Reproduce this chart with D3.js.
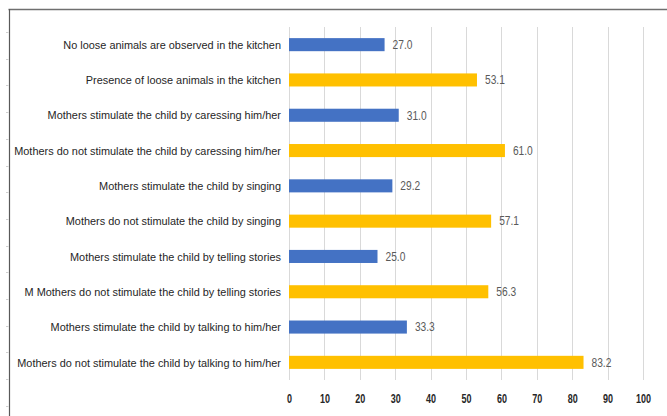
<!DOCTYPE html>
<html>
<head>
<meta charset="utf-8">
<script src="https://cdn.jsdelivr.net/npm/d3@7"></script>
<style>
  html, body { margin: 0; padding: 0; background: #fff; }
  svg { display: block; }
  .cat { font-family: "Liberation Sans", Arial, sans-serif; font-size: 11.5px; fill: #262626; }
  .val { font-family: "Liberation Sans", Arial, sans-serif; font-size: 12px; fill: #595959; }
  .tick text { font-family: "Liberation Sans", Arial, sans-serif; font-size: 12.5px; font-weight: bold; fill: #262626; }
</style>
</head>
<body>
<svg id="chart" width="667" height="416"></svg>
<script>
const categories = [
  "No loose animals are observed in the kitchen",
  "Presence of loose animals in the kitchen",
  "Mothers stimulate the child by caressing him/her",
  "Mothers do not stimulate the child by caressing him/her",
  "Mothers stimulate the child by singing",
  "Mothers do not stimulate the child by singing",
  "Mothers stimulate the child by telling stories",
  "M Mothers do not stimulate the child by telling stories",
  "Mothers stimulate the child by talking to him/her",
  "Mothers do not stimulate the child by talking to him/her"
];
const values = [27.0, 53.1, 31.0, 61.0, 29.2, 57.1, 25.0, 56.3, 33.3, 83.2];
const groups = ["yes", "no", "yes", "no", "yes", "no", "yes", "no", "yes", "no"];
const tickValues = [0, 10, 20, 30, 40, 50, 60, 70, 80, 90, 100];

const colors = { yes: "#4472C4", no: "#FFC000" };

const svg = d3.select("#chart");
const W = 667, H = 416;

// frame lines (top and left)
svg.append("line").attr("x1", 8.5).attr("x2", W).attr("y1", 9.5).attr("y2", 9.5)
  .attr("stroke", "#6f6f6f").attr("stroke-width", 1.6);
svg.append("line").attr("x1", 9.5).attr("x2", 9.5).attr("y1", 9).attr("y2", H)
  .attr("stroke", "#595959").attr("stroke-width", 1.2);
// small marks along the left frame
d3.range(32, H, 26.7).forEach(y => {
  svg.append("line").attr("x1", 6).attr("x2", 8.5).attr("y1", Math.round(y) + 0.5).attr("y2", Math.round(y) + 0.5)
    .attr("stroke", "#d0d0d0").attr("stroke-width", 1);
});

const x = d3.scaleLinear().domain([0, 100]).range([289, 643]);
const y = d3.scaleBand().domain(categories).range([27, 380]).paddingInner(0.63).paddingOuter(0.315);

// gridlines
svg.append("g").selectAll("line").data(tickValues).join("line")
  .attr("x1", d => Math.round(x(d)) + 0.5).attr("x2", d => Math.round(x(d)) + 0.5)
  .attr("y1", 27).attr("y2", 380)
  .attr("stroke", "#d9d9d9").attr("stroke-width", 1);

// x axis tick labels (condensed bold digits)
const xAxis = d3.axisBottom(x).tickValues(tickValues).tickSize(0).tickPadding(0).tickFormat(d3.format("d"));
const gx = svg.append("g").attr("transform", "translate(0,394)").call(xAxis);
gx.select(".domain").remove();
gx.selectAll(".tick text").attr("transform", "scale(0.72,1)");

// bars
svg.append("g").selectAll("rect").data(values).join("rect")
  .attr("x", x(0))
  .attr("y", (d, i) => y(categories[i]))
  .attr("width", d => x(d) - x(0))
  .attr("height", y.bandwidth())
  .attr("fill", (d, i) => colors[groups[i]]);

// value labels
svg.append("g").selectAll("text").data(values).join("text")
  .attr("class", "val")
  .attr("transform", (d, i) => `translate(${x(d) + 8},${y(categories[i]) + y.bandwidth() / 2}) scale(0.85,1)`)
  .attr("dy", "0.36em")
  .text(d => d.toFixed(1));

// category labels, condensed so the longest fits the label column
const catLabels = svg.append("g").selectAll("text").data(categories).join("text")
  .attr("class", "cat")
  .attr("dy", "0.36em")
  .attr("text-anchor", "end")
  .text(d => d);
const longest = d3.max(catLabels.nodes(), n => n.getComputedTextLength());
const k = 267 / longest;
catLabels.attr("transform", d => `translate(281,${y(d) + y.bandwidth() / 2}) scale(${k},1)`);
</script>
</body>
</html>
